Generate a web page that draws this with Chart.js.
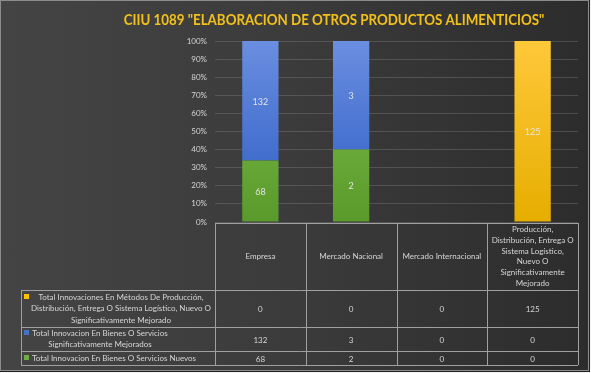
<!DOCTYPE html>
<html>
<head>
<meta charset="utf-8">
<script src="https://cdn.jsdelivr.net/npm/chart.js@4"></script>
<style>
  html, body { margin: 0; padding: 0; background: #f4f4f4; }
  #wrap {
    position: absolute; left: 0; top: 0; width: 587px; height: 369px;
    border: 1px solid #8c8c8c; outline: 1px solid #222;
    background: linear-gradient(90deg, #444444 0%, #3b3b3b 50%, #2c2c2c 100%);
  }
  canvas { position: absolute; left: -1px; top: -1px; }
</style>
</head>
<body>
<div id="wrap"><canvas id="chart" width="591" height="373"></canvas></div>
<script>
const categories = ['Empresa', 'Mercado Nacional', 'Mercado Internacional',
  ['Producción,', 'Distribución, Entrega O', 'Sistema Logístico,', 'Nuevo O', 'Significativamente', 'Mejorado']];
const nuevos = [68, 2, 0, 0];
const mejorados = [132, 3, 0, 0];
const metodos = [0, 0, 0, 125];
const yTicks = ['0%', '10%', '20%', '30%', '40%', '50%', '60%', '70%', '80%', '90%', '100%'];
const seriesNames = [
  ['Total Innovaciones En Métodos De Producción,', 'Distribución, Entrega O Sistema Logístico, Nuevo O', 'Significativamente Mejorado'],
  ['Total Innovacion En Bienes O Servicios', 'Significativamente Mejorados'],
  ['Total Innovacion En Bienes O Servicios Nuevos']
];

const totals = categories.map((c, i) => nuevos[i] + mejorados[i] + metodos[i]);
const pct = arr => arr.map((v, i) => totals[i] ? v / totals[i] * 100 : 0);

const textColor = '#d6d6d6';
const lineColor = '#a0a0a0';
const font = '"Lato", "Liberation Sans", sans-serif';

function grad(top, bottom) {
  return ctx => {
    const area = ctx.chart.chartArea;
    if (!area) return bottom;
    const g = ctx.chart.ctx.createLinearGradient(0, area.top, 0, area.bottom);
    g.addColorStop(0, top);
    g.addColorStop(1, bottom);
    return g;
  };
}

const extras = {
  id: 'extras',
  afterDatasetsDraw(chart) {
    const c = chart.ctx;
    // value labels
    c.save();
    c.font = '9px ' + font;
    c.fillStyle = '#e4e4e4';
    c.textAlign = 'center';
    c.textBaseline = 'middle';
    chart.data.datasets.forEach((ds, di) => {
      const meta = chart.getDatasetMeta(di);
      meta.data.forEach((bar, i) => {
        const raw = ds.raw[i];
        if (!raw) return;
        c.fillText(String(raw), bar.x, (bar.y + bar.base) / 2 + 1);
      });
    });
    c.restore();
  },
  afterDraw(chart) {
    const c = chart.ctx;
    const area = chart.chartArea;
    const x = chart.scales.x;
    // title (condensed)
    c.save();
    c.translate(334, 20);
    c.scale(0.86, 1);
    c.font = 'bold 15.5px ' + font;
    c.fillStyle = '#f2c01c';
    c.textAlign = 'center';
    c.textBaseline = 'middle';
    c.fillText('CIIU 1089 "ELABORACION DE OTROS PRODUCTOS ALIMENTICIOS"', 0, 0);
    c.restore();

    // data table
    const left = area.left, right = area.right;
    const legLeft = 21;
    const rows = [area.bottom + 1, 290, 327, 351, 365];
    const step = (right - left) / categories.length;
    c.save();
    c.strokeStyle = lineColor;
    c.lineWidth = 1;
    c.beginPath();
    c.moveTo(left, rows[0] + 0.5); c.lineTo(right, rows[0] + 0.5);
    for (let r = 1; r < rows.length; r++) {
      c.moveTo(legLeft, rows[r] + 0.5); c.lineTo(right, rows[r] + 0.5);
    }
    for (let k = 0; k <= categories.length; k++) {
      const xx = Math.round(left + k * step) + 0.5;
      c.moveTo(xx, rows[0]); c.lineTo(xx, rows[4]);
    }
    c.moveTo(legLeft + 0.5, rows[1]); c.lineTo(legLeft + 0.5, rows[4]);
    c.stroke();

    c.fillStyle = textColor;
    c.font = '8px ' + font;
    c.textAlign = 'center';
    c.textBaseline = 'middle';
    // header
    categories.forEach((cat, i) => {
      const cx = x.getPixelForValue(i);
      const lines = Array.isArray(cat) ? cat : [cat];
      const lh = 10.8;
      const y0 = (rows[0] + rows[1]) / 2 - (lines.length - 1) * lh / 2;
      lines.forEach((l, j) => c.fillText(l, cx, y0 + j * lh));
    });
    // rows: legend key + name + values
    const rowData = [metodos, mejorados, nuevos];
    const keyColors = ['#ffc000', '#4472c4', '#70ad47'];
    const nameCenters = [121, 100, 114];
    rowData.forEach((vals, r) => {
      const top = rows[r + 1], bot = rows[r + 2];
      const mid = (top + bot) / 2;
      vals.forEach((v, i) => c.fillText(String(v), x.getPixelForValue(i), mid + 1));
      const names = seriesNames[r];
      const lh = 11.5;
      const y0 = mid - (names.length - 1) * lh / 2;
      c.fillStyle = keyColors[r];
      c.fillRect(24, Math.round(y0) - 3, 5, 5);
      c.fillStyle = textColor;
      names.forEach((l, j) => c.fillText(l, nameCenters[r], y0 + j * lh));
    });
    c.restore();
  }
};

new Chart(document.getElementById('chart'), {
  type: 'bar',
  data: {
    labels: categories,
    datasets: [
      { label: 'Total Innovacion En Bienes O Servicios Nuevos', data: pct(nuevos), raw: nuevos,
        backgroundColor: grad('#7fbf4a', '#5a9a2c') },
      { label: 'Total Innovacion En Bienes O Servicios Significativamente Mejorados', data: pct(mejorados), raw: mejorados,
        backgroundColor: grad('#6a8ee0', '#2c5cc4') },
      { label: 'Total Innovaciones En Métodos De Producción, Distribución, Entrega O Sistema Logístico, Nuevo O Significativamente Mejorado',
        data: pct(metodos), raw: metodos,
        backgroundColor: grad('#ffc83a', '#e6ae00') }
    ]
  },
  options: {
    responsive: false,
    animation: false,
    events: [],
    layout: { padding: { left: 0, top: 41, right: 13, bottom: 151 } },
    datasets: { bar: { categoryPercentage: 1, barPercentage: 0.4 } },
    scales: {
      x: { stacked: true, display: false },
      y: {
        stacked: true, min: 0, max: 100,
        afterFit: s => { s.width = 215; },
        border: { display: false },
        grid: { color: 'rgba(150,150,150,0.3)', drawTicks: false },
        ticks: {
          stepSize: 10, padding: 8, color: textColor,
          font: { family: font, size: 8 },
          callback: (v, i) => yTicks[i]
        }
      }
    },
    plugins: { legend: { display: false }, tooltip: { enabled: false } }
  },
  plugins: [extras]
});
</script>
</body>
</html>
